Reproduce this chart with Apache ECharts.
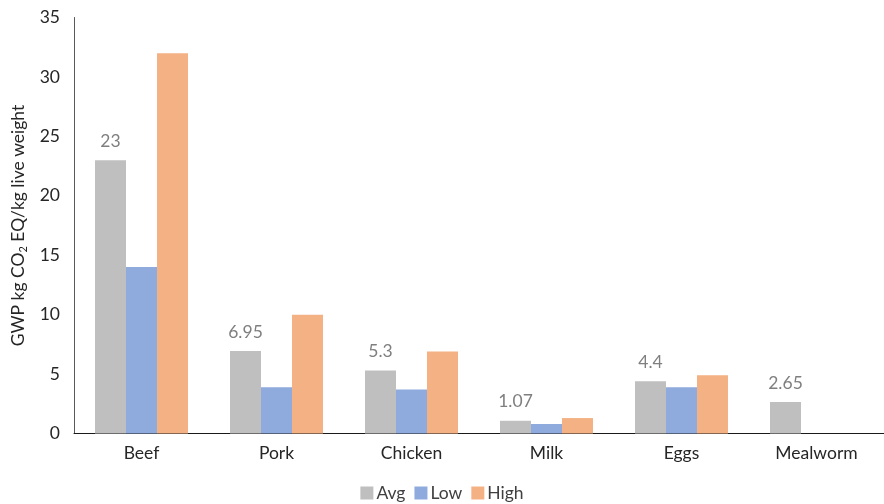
<!DOCTYPE html>
<html><head><meta charset="utf-8">
<script src="https://cdn.jsdelivr.net/npm/echarts@6/dist/echarts.min.js"></script>
<style>html,body{margin:0;padding:0;background:#fff}#c{width:884px;height:504px}</style>
</head><body><div id="c"></div>
<script>
const categories = ['Beef', 'Pork', 'Chicken', 'Milk', 'Eggs', 'Mealworm'];
const avgValues = [23, 6.95, 5.3, 1.07, 4.4, 2.65];
const lowValues = [14, 3.9, 3.7, 0.8, 3.9, null];
const highValues = [32, 10, 6.9, 1.3, 4.9, null];
const yTicks = { min: 0, max: 35, interval: 5 };

const FONT = 'Lato, "Open Sans", sans-serif';
const chart = echarts.init(document.getElementById('c'), null, { renderer: 'canvas' });
chart.setOption({
  animation: false,
  textStyle: { fontFamily: FONT },
  grid: { left: 74, right: 0, top: 17.5, bottom: 70.5, containLabel: false },
  legend: {
    bottom: -3, left: 'center',
    itemWidth: 13, itemHeight: 13, itemGap: 9,
    icon: 'rect',
    textStyle: { fontSize: 17.5, color: '#404040', fontFamily: FONT, padding: [0, 0, 0, -2] },
    data: ['Avg', 'Low', 'High']
  },
  xAxis: {
    type: 'category', data: categories, boundaryGap: true,
    axisLine: { lineStyle: { color: '#1a1a1a', width: 1 } },
    axisTick: { show: false },
    axisLabel: { fontSize: 17.5, color: '#262626', margin: 11, fontFamily: FONT }
  },
  yAxis: {
    type: 'value', min: yTicks.min, max: yTicks.max, interval: yTicks.interval,
    axisLine: { show: true, lineStyle: { color: '#595959', width: 1 } },
    axisTick: { show: false },
    splitLine: { show: false },
    axisLabel: { fontSize: 17.5, color: '#262626', margin: 14, fontFamily: FONT },
    name: 'GWP kg CO{sub|2} EQ/kg live weight',
    nameLocation: 'middle', nameGap: 42, nameRotate: 90,
    nameTextStyle: {
      fontSize: 17.5, color: '#262626', fontFamily: FONT,
      rich: { sub: { fontSize: 11, verticalAlign: 'bottom', padding: [9, 0, 0, 0], color: '#262626', fontFamily: FONT } }
    }
  },
  series: [
    { name: 'Avg', type: 'bar', data: avgValues, barWidth: 31, barGap: '0%',
      itemStyle: { color: '#BFBFBF' },
      label: { show: true, position: 'top', distance: 10, fontSize: 17.5, color: '#7F7F7F', fontFamily: FONT } },
    { name: 'Low', type: 'bar', data: lowValues, barWidth: 31, barGap: '0%',
      itemStyle: { color: '#8FAADC' } },
    { name: 'High', type: 'bar', data: highValues, barWidth: 31, barGap: '0%',
      itemStyle: { color: '#F4B183' } }
  ]
});
</script></body></html>
